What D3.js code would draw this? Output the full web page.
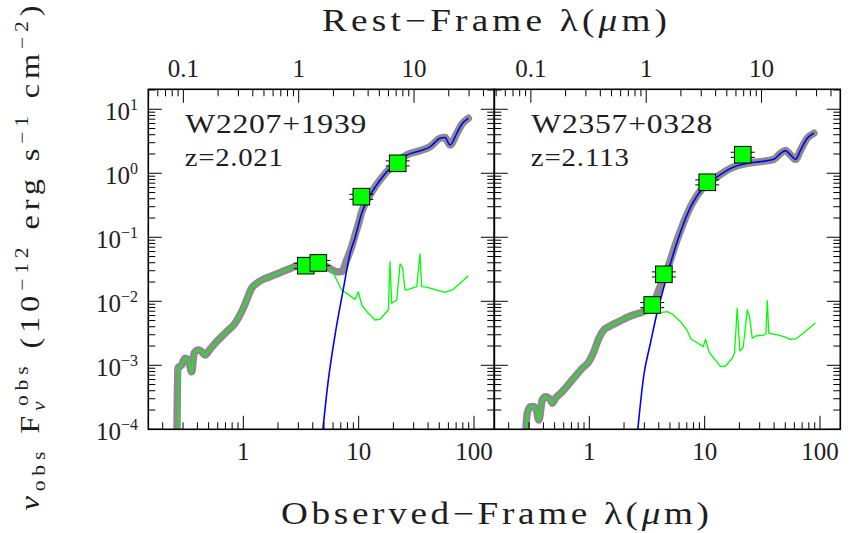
<!DOCTYPE html>
<html><head><meta charset="utf-8">
<script src="https://cdn.jsdelivr.net/npm/d3@7"></script>
<style>
body{margin:0;background:#fff}
text{font-family:"Liberation Serif","Times New Roman",serif;fill:#1e1e1e;white-space:pre}
</style>
</head><body>
<svg id="c" width="849" height="533"></svg>
<script>
// ---------------- data ----------------
const objectNames = ["W2207+1939", "W2357+0328"];
const redshifts = [2.021, 2.113];
const redshiftLabels = ["z=2.021", "z=2.113"];

// observed wavelength (um), nu F_nu (1e-12 erg/s/cm2)
const totalLeft = [[0.265,5e-5],[0.270,9.0e-4],[0.292,1.01e-3],[0.312,1.29e-3],[0.334,1.21e-3],[0.357,7.9e-4],[0.374,1.54e-3],[0.407,1.73e-3],[0.436,1.63e-3],[0.466,1.45e-3],[0.514,1.78e-3],[0.588,2.34e-3],[0.718,3.35e-3],[0.847,4.53e-3],[0.968,6.88e-3],[1.07,0.0105],[1.18,0.0160],[1.306,0.0191],[1.49,0.0221],[1.704,0.0242],[2.08,0.0280],[2.71,0.034],[3.31,0.0383],[4.05,0.0392],[5.28,0.0347],[6.45,0.0290],[7.13,0.0292],[7.88,0.0442],[8.71,0.072],[9.30,0.108],[9.94,0.16],[10.6,0.245],[12.55,0.46],[15.3,0.786],[20.0,1.35],[26.1,1.93],[34.0,2.25],[41.6,2.60],[50.8,3.52],[56.1,3.63],[62.0,2.77],[70.9,4.22],[78.7,5.89],[89.3,7.23]];
const agnLeft = [[4.80,7e-5],[5.46,5.9e-4],[6.24,2.97e-3],[7.37,0.0156],[8.42,0.0562],[9.30,0.0975],[10.6,0.235],[12.55,0.45],[15.3,0.78],[20.0,1.34],[26.1,1.92],[34.0,2.24],[41.6,2.59],[50.8,3.51],[56.1,3.62],[62.0,2.76],[70.9,4.21],[78.7,5.88],[89.3,7.22]];
const hostLeft = [[0.272,5e-5],[0.275,9.0e-4],[0.292,1.01e-3],[0.312,1.29e-3],[0.334,1.21e-3],[0.357,7.9e-4],[0.374,1.54e-3],[0.407,1.73e-3],[0.436,1.63e-3],[0.466,1.45e-3],[0.514,1.78e-3],[0.588,2.34e-3],[0.718,3.35e-3],[0.847,4.53e-3],[0.968,6.88e-3],[1.07,0.0105],[1.18,0.0160],[1.306,0.0191],[1.49,0.0221],[1.704,0.0242],[2.08,0.0280],[2.71,0.034],[3.31,0.0383],[4.05,0.0392],[5.28,0.0347],[6.04,0.0274],[6.66,0.0191],[7.13,0.0150],[7.88,0.0133],[9.30,0.0107],[9.94,0.0141],[10.63,0.00875],[12.13,0.00649],[13.87,0.0051],[15.32,0.00524],[18.08,0.00731],[18.7,0.0416],[19.35,0.0093],[21.4,0.0105],[22.85,0.0383],[24.1,0.0328],[25.2,0.0150],[26.95,0.0154],[31.9,0.0169],[34.0,0.0548],[35.2,0.0169],[38.9,0.0166],[47.5,0.0150],[56.1,0.0138],[66.2,0.0154],[75.7,0.0191],[89.3,0.0251]];

const totalRight = [[0.280,8e-5],[0.2893,1.78e-4],[0.309,2.26e-4],[0.330,2.26e-4],[0.348,2.0e-4],[0.365,1.40e-4],[0.391,2.87e-4],[0.417,3.23e-4],[0.461,2.87e-4],[0.477,2.55e-4],[0.509,3.05e-4],[0.582,3.87e-4],[0.711,5.89e-4],[0.868,8.98e-4],[0.990,1.14e-3],[1.094,1.63e-3],[1.209,2.64e-3],[1.336,3.56e-3],[1.476,4.01e-3],[1.80,4.80e-3],[2.20,5.75e-3],[2.69,6.49e-3],[2.97,6.9e-3],[3.39,8.6e-3],[3.62,0.0098],[4.14,0.0175],[4.74,0.032],[5.78,0.092],[7.54,0.301],[9.83,0.618],[12.85,0.885],[16.75,1.197],[23.4,1.43],[30.5,1.52],[39.8,1.65],[45.5,2.05],[50.3,2.26],[55.6,1.93],[61.4,1.65],[67.9,2.31],[77.5,3.52],[88.4,4.22]];
const agnRight = [[2.60,8e-5],[2.97,7.05e-4],[3.39,2.23e-3],[3.88,6.8e-3],[4.29,0.0135],[4.74,0.026],[5.78,0.085],[7.54,0.295],[9.83,0.612],[12.85,0.88],[16.75,1.19],[23.4,1.43],[30.5,1.52],[39.8,1.65],[45.5,2.05],[50.3,2.26],[55.6,1.93],[61.4,1.65],[67.9,2.31],[77.5,3.52],[88.4,4.22]];
const hostRight = [[0.284,8e-5],[0.2893,1.78e-4],[0.309,2.26e-4],[0.330,2.26e-4],[0.348,2.0e-4],[0.365,1.40e-4],[0.391,2.87e-4],[0.417,3.23e-4],[0.461,2.87e-4],[0.477,2.55e-4],[0.509,3.05e-4],[0.582,3.87e-4],[0.711,5.89e-4],[0.868,8.98e-4],[0.990,1.14e-3],[1.094,1.63e-3],[1.209,2.64e-3],[1.336,3.56e-3],[1.476,4.01e-3],[1.80,4.80e-3],[2.20,5.75e-3],[2.69,6.49e-3],[2.97,6.7e-3],[3.62,6.6e-3],[4.14,6.64e-3],[4.74,6.88e-3],[5.23,6.33e-3],[6.18,4.80e-3],[6.96,3.65e-3],[7.65,2.55e-3],[8.62,2.25e-3],[9.72,1.95e-3],[10.18,2.55e-3],[10.87,1.63e-3],[12.01,1.29e-3],[13.73,9.5e-4],[15.17,9.75e-4],[17.34,1.29e-3],[18.16,1.54e-3],[19.16,7.78e-3],[20.2,1.67e-3],[21.6,1.91e-3],[23.4,7.31e-3],[24.5,5.75e-3],[25.85,2.64e-3],[27.6,2.87e-3],[32.6,2.97e-3],[34.0,3.14e-3],[34.9,0.0102],[36.0,3.16e-3],[41.2,3.05e-3],[48.6,2.80e-3],[55.6,2.55e-3],[61.4,2.58e-3],[72.4,3.23e-3],[91.4,4.63e-3]];

// WISE photometry
const photLamLeft = [3.48, 4.47, 10.55, 21.8];
const photFluxLeft = [0.036, 0.0397, 0.431, 1.43];
const photErrLeft = [0.0033, 0.0036, 0.039, 0.13];
const photLamRight = [3.51, 4.43, 10.53, 21.4];
const photFluxRight = [0.00875, 0.0264, 0.723, 1.95];
const photErrRight = [0.0008, 0.0024, 0.065, 0.18];

// axis ticks
const obsMajor = [1, 10, 100];
const obsMinor = [0.2,0.3,0.4,0.5,0.6,0.7,0.8,0.9,2,3,4,5,6,7,8,9,20,30,40,50,60,70,80,90];
const restMajor = [0.1, 1, 10];
const restMinor = [0.05,0.06,0.07,0.08,0.09,0.2,0.3,0.4,0.5,0.6,0.7,0.8,0.9,2,3,4,5,6,7,8,9,20,30,40];
const fluxExp = [-4, -3, -2, -1, 0, 1];
const fluxMinorMult = [2,3,4,5,6,7,8,9];

// ---------------- drawing ----------------
const svg = d3.select("#c");
const top0 = 89.3, bot0 = 429.3, pw = 346;
const lefts = [148.3, 494.3];
const y = d3.scaleLog().domain([1e-4, 20.5]).range([bot0, top0]);
const MAJ = 13.5, MIN = 7;

// wide text: horizontal stretch sx, then extra letter spacing to reach the target length
function wideText(parent, tx, ty, rot, sx, fs, target, anchor) {
  const t = parent.append("text")
    .attr("transform", `translate(${tx},${ty})${rot ? " rotate(" + rot + ")" : ""} scale(${sx},1)`)
    .attr("font-size", fs).attr("textLength", target / sx).attr("lengthAdjust", "spacing");
  if (anchor) t.attr("text-anchor", anchor);
  return t;
}

const panels = [
  {total: totalLeft, agn: agnLeft, host: hostLeft, lam: photLamLeft, f: photFluxLeft, e: photErrLeft},
  {total: totalRight, agn: agnRight, host: hostRight, lam: photLamRight, f: photFluxRight, e: photErrRight}
];

panels.forEach((p, i) => {
  const x0 = lefts[i];
  const x = d3.scaleLog().domain([0.15, 150]).range([x0, x0 + pw]);
  const z = redshifts[i];
  const xr = d3.scaleLog().domain([0.15/(1+z), 150/(1+z)]).range([x0, x0 + pw]);
  const g = svg.append("g");
  const cid = "clip" + i;
  svg.append("clipPath").attr("id", cid).append("rect")
    .attr("x", x0).attr("y", top0).attr("width", pw).attr("height", bot0 - top0);
  const plot = g.append("g").attr("clip-path", `url(#${cid})`);

  const lineSmooth = d3.line().x(d => x(d[0])).y(d => y(d[1])).curve(d3.curveMonotoneX);
  const lineLin = d3.line().x(d => x(d[0])).y(d => y(d[1]));

  plot.append("path").attr("d", lineSmooth(p.total)).attr("fill", "none")
    .attr("stroke", "#8c8c8c").attr("stroke-width", 7.5).attr("stroke-linejoin", "round").attr("stroke-linecap", "round");
  plot.append("path").attr("d", lineLin(p.host)).attr("fill", "none")
    .attr("stroke", "#00ff00").attr("stroke-width", 1.3).attr("stroke-linejoin", "round");
  plot.append("path").attr("d", lineSmooth(p.agn)).attr("fill", "none")
    .attr("stroke", "#0000ff").attr("stroke-width", 1.6);

  p.lam.forEach((l, k) => {
    const cx = x(l), f = p.f[k], e = p.e[k];
    const yh = y(f + e), yl = y(f - e);
    plot.append("line").attr("x1", cx).attr("x2", cx).attr("y1", yh).attr("y2", yl).attr("stroke", "#000").attr("stroke-width", 1);
    [yh, yl].forEach(yy => plot.append("line").attr("x1", cx - 12).attr("x2", cx + 12).attr("y1", yy).attr("y2", yy).attr("stroke", "#000").attr("stroke-width", 1));
  });
  p.lam.forEach((l, k) => {
    plot.append("rect").attr("x", x(l) - 8.3).attr("y", y(p.f[k]) - 8.3).attr("width", 16.6).attr("height", 16.6)
      .attr("fill", "#00ff00").attr("stroke", "#000").attr("stroke-width", 1);
  });

  g.append("rect").attr("x", x0).attr("y", top0).attr("width", pw).attr("height", bot0 - top0)
    .attr("fill", "none").attr("stroke", "#000").attr("stroke-width", 1.6);

  const tk = g.append("g").attr("stroke", "#000").attr("stroke-width", 1);
  const inX = v => v >= x.domain()[0] && v <= x.domain()[1];
  obsMajor.filter(inX).forEach(v => tk.append("line").attr("x1", x(v)).attr("x2", x(v)).attr("y1", bot0).attr("y2", bot0 - MAJ));
  obsMinor.filter(inX).forEach(v => tk.append("line").attr("x1", x(v)).attr("x2", x(v)).attr("y1", bot0).attr("y2", bot0 - MIN));
  const inR = v => v >= xr.domain()[0] && v <= xr.domain()[1];
  restMajor.filter(inR).forEach(v => tk.append("line").attr("x1", xr(v)).attr("x2", xr(v)).attr("y1", top0).attr("y2", top0 + MAJ));
  restMinor.filter(inR).forEach(v => tk.append("line").attr("x1", xr(v)).attr("x2", xr(v)).attr("y1", top0).attr("y2", top0 + MIN));
  fluxExp.forEach(ex => {
    const v = Math.pow(10, ex);
    [x0, x0 + pw].forEach((xx, s) => {
      const dir = s === 0 ? 1 : -1;
      tk.append("line").attr("x1", xx).attr("x2", xx + dir * MAJ).attr("y1", y(v)).attr("y2", y(v));
      fluxMinorMult.forEach(m => {
        const vv = m * v;
        if (vv <= y.domain()[1]) tk.append("line").attr("x1", xx).attr("x2", xx + dir * MIN).attr("y1", y(vv)).attr("y2", y(vv));
      });
    });
  });

  obsMajor.filter(inX).forEach(v => g.append("text").attr("x", x(v)).attr("y", 460).attr("text-anchor", "middle")
    .attr("font-size", 25).text(String(v)));
  restMajor.filter(inR).forEach(v => g.append("text").attr("x", xr(v)).attr("y", 77).attr("text-anchor", "middle")
    .attr("font-size", 25).text(String(v)));

  wideText(g, x0 + 37, 133.3, 0, 1.15, 27.5, 181).text(objectNames[i]);
  wideText(g, x0 + 36.5, 166, 0, 1.15, 25, 98).text(redshiftLabels[i]);
});

fluxExp.forEach(ex => {
  const t = svg.append("text").attr("x", 138).attr("y", y(Math.pow(10, ex)) + 11).attr("text-anchor", "end").attr("font-size", 25);
  t.append("tspan").text("10");
  t.append("tspan").attr("font-size", 16).attr("dy", -10).text(ex < 0 ? "\u2212" + Math.abs(ex) : String(ex));
});

wideText(svg, 322, 31, 0, 1.2, 31, 345)
  .call(t => { t.append("tspan").text("Rest\u2212Frame \u03bb("); t.append("tspan").attr("font-style", "italic").text("\u03bc"); t.append("tspan").text("m)"); });
wideText(svg, 281, 524, 0, 1.2, 31, 428)
  .call(t => { t.append("tspan").text("Observed\u2212Frame \u03bb("); t.append("tspan").attr("font-style", "italic").text("\u03bc"); t.append("tspan").text("m)"); });

const yt = wideText(svg, 39, 258, -90, 1.2, 27, 505, "middle");
yt.append("tspan").attr("font-style", "italic").text("\u03bd");
yt.append("tspan").attr("font-size", 18).attr("dy", 6).text("obs");
yt.append("tspan").attr("dy", -6).text(" F");
yt.append("tspan").attr("font-size", 18).attr("font-style", "italic").attr("dy", 6).text("\u03bd");
yt.append("tspan").attr("font-size", 18).attr("dx", -8).attr("dy", -17).text("obs");
yt.append("tspan").attr("dy", 11).text(" (10");
yt.append("tspan").attr("font-size", 18).attr("dy", -11).text("\u221212");
yt.append("tspan").attr("dy", 11).text(" erg s");
yt.append("tspan").attr("font-size", 18).attr("dy", -11).text("\u22121");
yt.append("tspan").attr("dy", 11).text(" cm");
yt.append("tspan").attr("font-size", 18).attr("dy", -11).text("\u22122");
yt.append("tspan").attr("dy", 11).text(")");
</script>
</body></html>
